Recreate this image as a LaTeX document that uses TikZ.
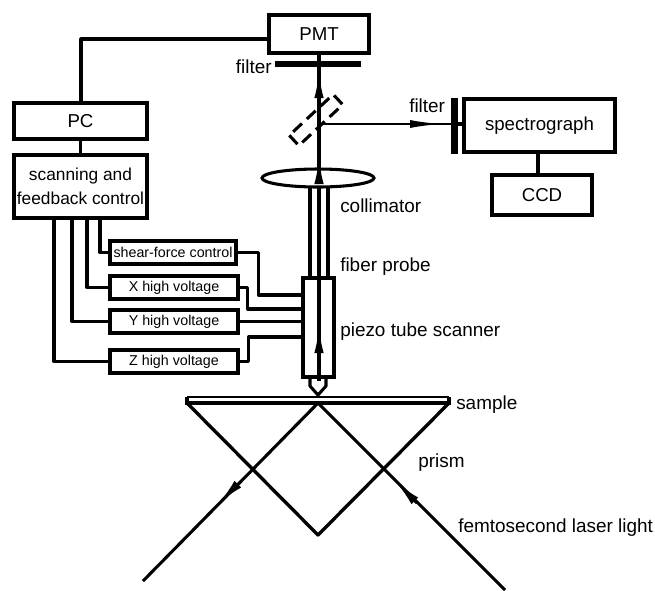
\documentclass[tikz,border=0pt]{standalone}
\usepackage{fontspec}
\setmainfont{Liberation Sans}
\usetikzlibrary{arrows.meta,calc,positioning,shapes.geometric}
\tikzset{
  boxnode/.style={draw,line width=2.6pt,inner sep=0pt,font=\fontsize{14}{16}\selectfont},
  smallbox/.style={boxnode,line width=2.5pt,font=\fontsize{10.7}{12}\selectfont},
  labeltext/.style={inner sep=0pt,font=\fontsize{14.2}{16}\selectfont},
  wire/.style={line width=2.3pt,line join=round},
  beam/.style={line width=2.3pt},
  beamtip/.style={line width=2.3pt,-{Latex[length=21pt,width=7pt]}}
}
\begin{document}
\begin{tikzpicture}[x=0.75pt,y=-0.75pt]
  \useasboundingbox (0,0) rectangle (655,590);
  % instruments
  \node[boxnode,minimum width=100*0.75pt,minimum height=38*0.75pt] (pmt) at (319,34) {PMT};
  \node[boxnode,minimum width=133*0.75pt,minimum height=36*0.75pt] (pc) at (80.5,121) {PC};
  \node[boxnode,font=\fontsize{13}{15}\selectfont,minimum width=133*0.75pt,minimum height=63*0.75pt,align=center] (scan) at (80.5,186.5) {scanning and\\[3pt]feedback control};
  \node[boxnode,minimum width=151*0.75pt,minimum height=53*0.75pt] (spec) at (539.5,125.5) {spectrograph};
  \node[boxnode,minimum width=100*0.75pt,minimum height=40*0.75pt] (ccd) at (542,195) {CCD};
  % high voltage units
  \node[smallbox,minimum width=126*0.75pt,minimum height=23*0.75pt] (shear) at (173,252.5) {shear-force control};
  \foreach \name/\yy in {X/287.5,Y/321.5,Z/361.5}{
    \node[smallbox,minimum width=128*0.75pt,minimum height=23*0.75pt] (hv\name) at (174,\yy) {\name{} high voltage};
  }
  % scanner
  \node[draw,line width=2.4pt,minimum width=31*0.75pt,minimum height=99*0.75pt,inner sep=0pt] (tube) at (318.5,327.5) {};
  \node[draw,line width=2.3pt,ellipse,minimum width=112*0.75pt,minimum height=18*0.75pt,inner sep=0pt] (lens) at (318,178) {};
  \coordinate (tubeS) at (303,295);
  \coordinate (tubeX) at (303,309);
  \coordinate (tubeY) at (303,321.5);
  \coordinate (tubeZ) at (303,337);
  % labels
  \node[labeltext,anchor=east] (filterA) at (272,67) {filter};
  \node[labeltext,anchor=west] (filterB) at (409,106) {filter};
  \node[labeltext,anchor=west] (collimator) at (340,206) {collimator};
  \node[labeltext,anchor=west] (fiber) at (340,267) {fiber probe};
  \node[labeltext,anchor=west] (piezo) at (340,332) {piezo tube scanner};
  \node[labeltext,anchor=west] (sample) at (456,405) {sample};
  \node[labeltext,anchor=west] (prism) at (418,463) {prism};
  \node[labeltext,anchor=west] (laser) at (458,528) {femtosecond laser light};
  % filters and mirror
  \draw[line width=4.6pt] (275,64)--(361,64);
  \draw[line width=5.2pt] (454.5,98)--(454.5,154);
  \draw[line width=2.3pt,dash pattern=on 9pt off 5pt,rotate around={43:(316,120)}] (286,113) rectangle (346,127);
  % wires
  \draw[wire] ($(pc.north)+(0.5,0)$) |- ($(pmt.west)+(0,5)$);
  \draw[wire] (pc) -- (scan);
  \draw[wire] ($(spec.south)+(-1.5,0)$) -- ($(ccd.north)+(-4,0)$);
  \draw[wire] ($(scan.south)+(19.5,0)$) |- (shear.west);
  \draw[wire] ($(scan.south)+(6.5,0)$) |- (hvX.west);
  \draw[wire] ($(scan.south)+(-8.5,0)$) |- (hvY.west);
  \draw[wire] ($(scan.south)+(-26.5,0)$) |- (hvZ.west);
  \draw[wire] (shear.east) -- ++(21,0) |- (tubeS);
  \draw[wire] (hvX.east) -- ++(8,0) |- (tubeX);
  \draw[wire] (hvY.east) -- (tubeY);
  \draw[wire] (hvZ.east) -- ++(9,0) |- (tubeZ);
  % fibre
  \draw[wire] (310,188)--(310,278);
  \draw[wire] (328,188)--(328,278);
  \draw[beam] (pmt.south-|319,0)--(319,175);
  \draw[beam] (319,188)--(319,381);
  \draw[beamtip] (319,101)--(319,70);
  \draw[beamtip] (319,184)--(319,156);
  \draw[beamtip] (319,355)--(319,325);
  \draw[line width=1.6pt] (319,124)--(452,124);
  \draw[line width=1.6pt,-{Latex[length=24pt,width=6pt]}] (408,124)--(442,124);
  \draw[wire] (457,124)--(spec.west|-0,124);
  \draw[wire] (310,377)--(310,386)--(318,395)--(326,386)--(326,377);
  % sample and prism
  \draw[line width=1.6pt] (187,397)--(449,397);
  \draw[line width=2.3pt,line join=miter] (187,397)--(187,403)--(449,403)--(449,397);
  \draw[line width=2.5pt,line join=round] (187,403)--(318,535)--(449,403);
  \draw[beam] (318,403)--(143,581);
  \draw[beam] (318,403)--(505,590);
  \draw[beamtip] (238,484)--(218,504);
  \draw[beamtip] (417,503)--(395,481);
\end{tikzpicture}
\end{document}
